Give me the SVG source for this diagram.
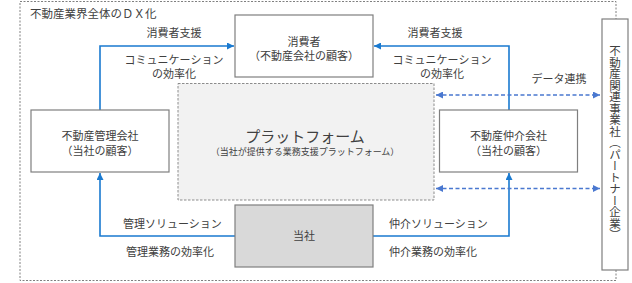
<svg xmlns="http://www.w3.org/2000/svg" width="632" height="283" viewBox="0 0 632 283">
<style>
text{font-family:"Liberation Sans","Noto Sans CJK JP",sans-serif;fill:#404040;}
.t11{font-size:11px;}
.c{text-anchor:middle;}
.box{fill:#ffffff;stroke:#7f7f7f;stroke-width:1.2;}
.sol{fill:none;stroke:#1a7ad0;stroke-width:1.6;}
.dash{fill:none;stroke:#4a78d0;stroke-width:1.4;stroke-dasharray:4 2.5;}
</style>
<defs>
<marker id="ah" viewBox="0 0 10 10" refX="10" refY="5" markerWidth="7" markerHeight="7" markerUnits="userSpaceOnUse" orient="auto"><path d="M0,0 L10,5 L0,10 Z" fill="#1a7ad0"/></marker>
<marker id="ahd" viewBox="0 0 10 10" refX="10" refY="5" markerWidth="7" markerHeight="7" markerUnits="userSpaceOnUse" orient="auto-start-reverse"><path d="M0,0 L10,5 L0,10 Z" fill="#4a78d0"/></marker>
</defs>
<rect width="632" height="283" fill="#ffffff"/>
<g id="frame">
<rect x="20" y="1.5" width="596" height="279" fill="none" stroke="#808080" stroke-width="1" stroke-dasharray="2 1.5"/>
<text class="t11" x="30" y="18" style="font-size:11.5px">不動産業界全体のＤＸ化</text>
</g>
<g id="platform">
<rect x="178" y="83.5" width="256" height="116.5" fill="#f2f2f2" stroke="#8c8c8c" stroke-width="1" stroke-dasharray="2.5 1.5"/>
<text class="c" x="305" y="142" style="font-size:15px">プラットフォーム</text>
<text class="c" x="305" y="155" style="font-size:9px">（当社が提供する業務支援プラットフォーム）</text>
</g>
<g id="connectors">
<path class="sol" d="M100,110 V46 H234" marker-end="url(#ah)"/>
<path class="sol" d="M509,110 V46 H374" marker-end="url(#ah)"/>
<path class="sol" d="M235,236 H100 V173" marker-end="url(#ah)"/>
<path class="sol" d="M373,236 H509 V173" marker-end="url(#ah)"/>
<path class="dash" d="M436,95 H600" marker-start="url(#ahd)" marker-end="url(#ahd)"/>
<path class="dash" d="M436,188.5 H600" marker-start="url(#ahd)" marker-end="url(#ahd)"/>
<text class="t11 c" x="174" y="37">消費者支援</text>
<text class="t11 c" x="435" y="37">消費者支援</text>
<text class="t11 c" x="174" y="64">コミュニケーション</text>
<text class="t11 c" x="174" y="77.5">の効率化</text>
<text class="t11 c" x="442" y="64">コミュニケーション</text>
<text class="t11 c" x="442" y="77.5">の効率化</text>
<text class="t11 c" x="559" y="83">データ連携</text>
<text class="t11" x="123" y="228">管理ソリューション</text>
<text class="t11" x="126" y="256">管理業務の効率化</text>
<text class="t11" x="389" y="228">仲介ソリューション</text>
<text class="t11" x="389" y="256">仲介業務の効率化</text>
</g>
<g id="consumer">
<rect class="box" x="235" y="15" width="138" height="62"/>
<text class="t11 c" x="304" y="45.5">消費者</text>
<text class="t11 c" x="304" y="59.5">（不動産会社の顧客）</text>
</g>
<g id="management">
<rect class="box" x="31" y="110" width="138" height="62"/>
<text class="t11 c" x="100" y="139.5">不動産管理会社</text>
<text class="t11 c" x="100" y="154.5">（当社の顧客）</text>
</g>
<g id="broker">
<rect class="box" x="439.5" y="110" width="138" height="62"/>
<text class="t11 c" x="508.5" y="139.5">不動産仲介会社</text>
<text class="t11 c" x="508.5" y="154.5">（当社の顧客）</text>
</g>
<g id="company">
<rect x="235" y="205" width="138" height="62" fill="#d9d9d9" stroke="#7f7f7f" stroke-width="1.2"/>
<text class="t11 c" x="304" y="240">当社</text>
</g>
<g id="partner">
<rect class="box" x="602" y="19" width="26" height="251"/>
<text class="c" x="615" y="143" style="font-size:11.5px;writing-mode:vertical-rl;font-family:'Noto Sans CJK JP',sans-serif;">不動産関連事業社（パートナー企業）</text>
</g>
</svg>
